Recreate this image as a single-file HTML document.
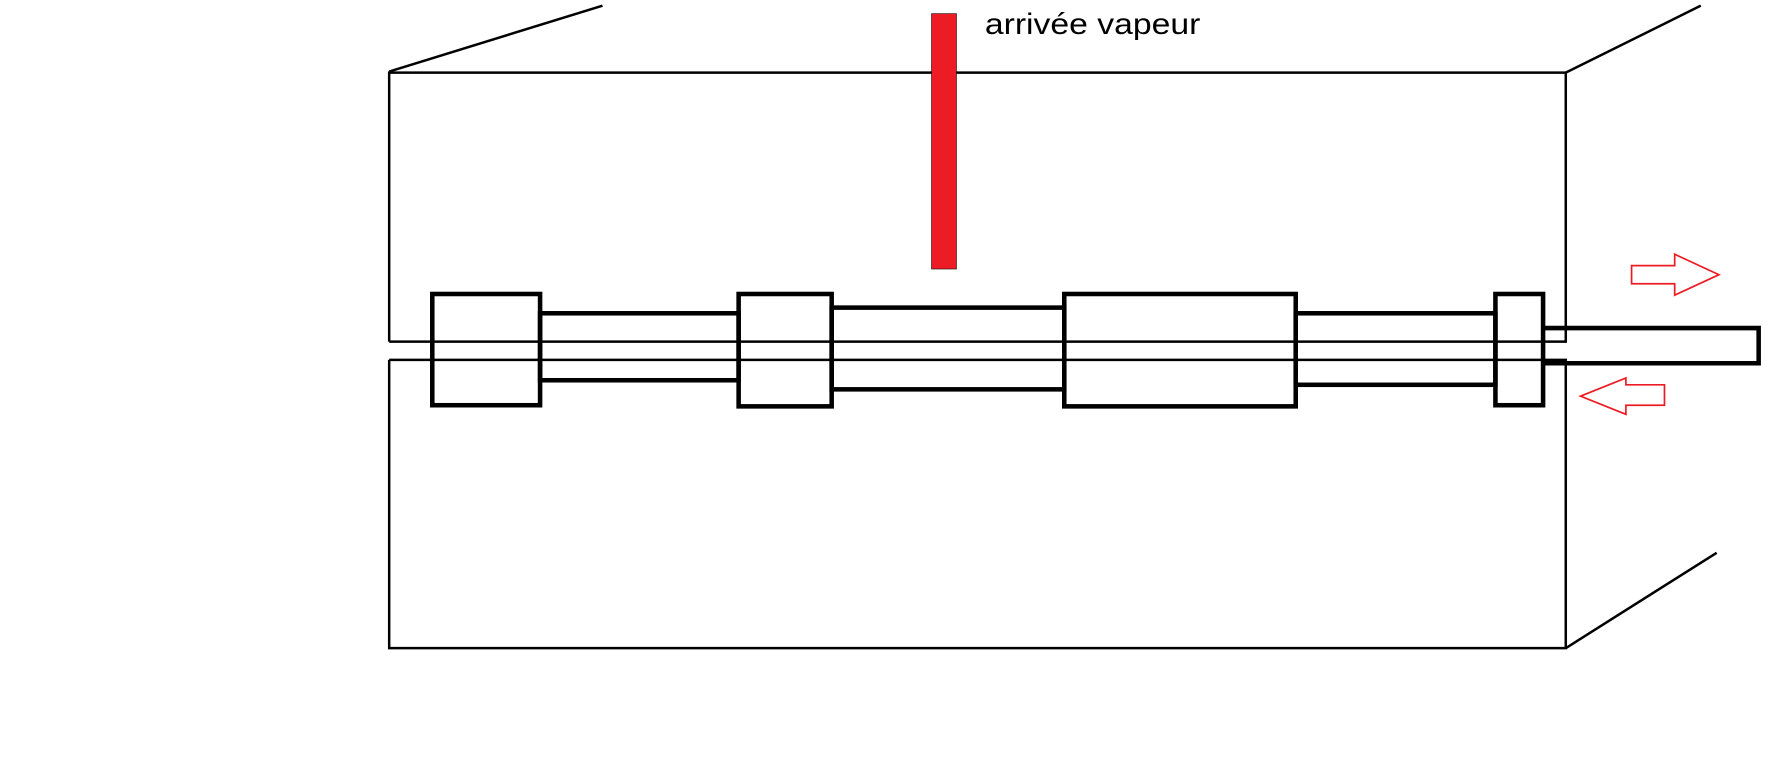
<!DOCTYPE html>
<html><head><style>html,body{margin:0;padding:0;background:#fff;width:1770px;height:773px;overflow:hidden}</style></head>
<body>
<svg width="1770" height="773" viewBox="0 0 1560 681" preserveAspectRatio="none" xmlns="http://www.w3.org/2000/svg">
<g fill="none" stroke="#000" stroke-width="2.2">
<polyline points="343,301 343,64 1380,64 1380,301 343,301"/>
<polyline points="343,317 1380,317 1380,571 343,571 343,317"/>
<line x1="343" y1="63" x2="531" y2="5"/>
<line x1="1380" y1="64" x2="1499" y2="5"/>
<line x1="1380" y1="571" x2="1513" y2="487"/>
</g>
<g fill="none" stroke="#000" stroke-width="4">
<rect x="381" y="259" width="95" height="98"/>
<rect x="476" y="276" width="175" height="59"/>
<rect x="651" y="259" width="82" height="99"/>
<rect x="733" y="271" width="205" height="72"/>
<rect x="938" y="259" width="204" height="99"/>
<rect x="1142" y="276" width="176" height="63"/>
<rect x="1318" y="259" width="42" height="98"/>
<polyline points="1360,289 1550,289 1550,320 1360,320"/>
</g>
<rect x="821" y="12" width="22" height="225" fill="#ed1c24" stroke="#000" stroke-width="0.5"/>
<text x="868" y="30" font-family="Liberation Sans, sans-serif" font-size="26" textLength="190" lengthAdjust="spacingAndGlyphs" fill="#000">arrivée vapeur</text>
<g fill="none" stroke="#ed1c24" stroke-width="1.5">
<polygon points="1438,234 1476,234 1476,224 1515,242 1476,260 1476,250 1438,250"/>
<polygon points="1467,339 1433,339 1433,333 1393,349 1433,365 1433,357 1467,357"/>
</g>
</svg>
</body></html>
